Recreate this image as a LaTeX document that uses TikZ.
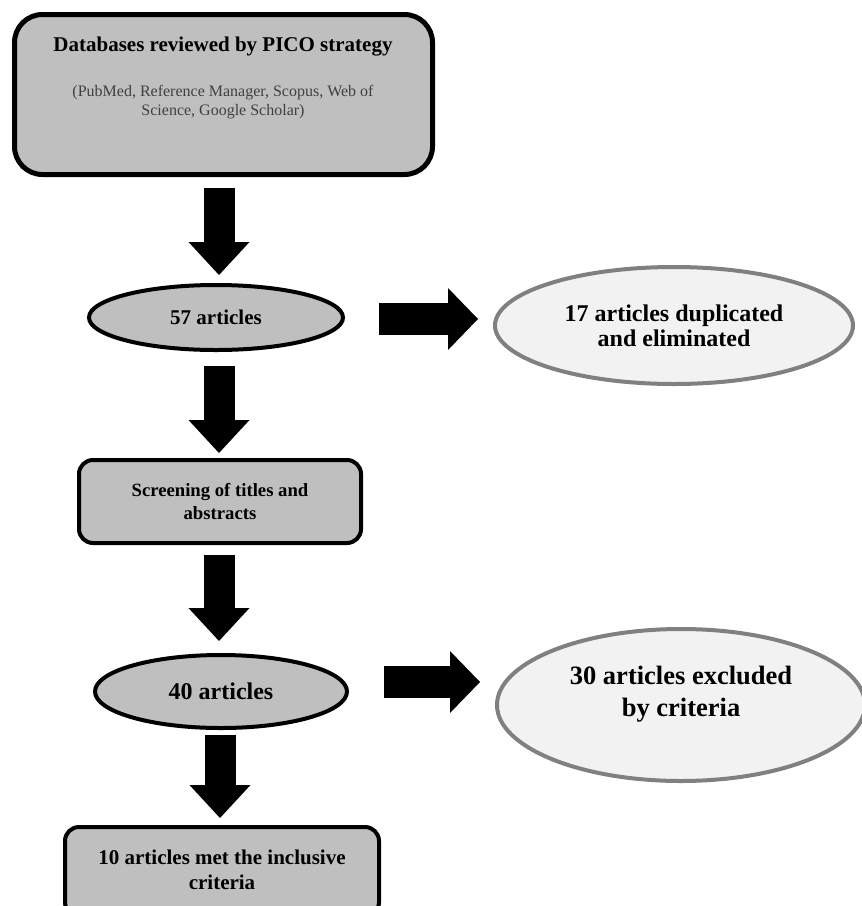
\documentclass[tikz,border=0pt]{standalone}
\usepackage{fontspec}
\setmainfont{Liberation Serif}
\usetikzlibrary{arrows.meta,shapes.geometric,calc}
\definecolor{boxgray}{HTML}{BFBFBF}
\definecolor{lightfill}{HTML}{F2F2F2}
\definecolor{edgegray}{HTML}{808080}
\definecolor{subtext}{HTML}{404040}
\begin{document}
\begin{tikzpicture}[x=1pt,y=-1pt,
  boxg/.style={draw=black, fill=boxgray, rounded corners=#1, line width=4pt, inner sep=0pt, align=center},
  ellg/.style={ellipse, draw=black, fill=boxgray, line width=4pt, inner sep=0pt, align=center},
  elll/.style={ellipse, draw=edgegray, fill=lightfill, line width=4pt, inner sep=0pt, align=center},
  dnarrow/.style={draw=black, line width=31pt, -{Triangle[length=33pt,width=61pt,line width=0pt]}},
  rtarrow/.style={draw=black, line width=32pt, -{Triangle[length=30pt,width=62pt,line width=0pt]}}]
\useasboundingbox (0,0) rectangle (862,906);
\clip (0,0) rectangle (862,906);

% top box
\node[boxg=28pt, line width=5pt, minimum width=418pt, minimum height=160pt] (db) at (223.5,94.5) {};
\node[inner sep=0pt, font=\bfseries\fontsize{21}{25}\selectfont] (dbt) at (223,47) {Databases reviewed by PICO strategy};
\node[inner sep=0pt, font=\fontsize{16}{19}\selectfont, text=subtext, align=center] (dbs) at (223,102.5) {(PubMed, Reference Manager, Scopus, Web of\\Science, Google Scholar)};

% 57 articles
\node[ellg, minimum width=254pt, minimum height=65pt, font=\bfseries\fontsize{21}{25}\selectfont] (a57) at (216,317.5) {57 articles};

% 17 duplicated
\node[elll, minimum width=358pt, minimum height=117pt, font=\bfseries\fontsize{24}{25}\selectfont] (e17) at (674,325.5) {17 articles duplicated\\and eliminated};

% screening
\node[boxg=14pt, minimum width=282pt, minimum height=83pt, font=\bfseries\fontsize{18.7}{23}\selectfont] (scr) at (220,501.5) {Screening of titles and\\abstracts};

% 40 articles
\node[ellg, minimum width=252pt, minimum height=73pt, font=\bfseries\fontsize{24}{28}\selectfont] (e40) at (221,691.5) {40 articles};

% 30 excluded
\node[elll, minimum width=368pt, minimum height=152pt] (e30) at (681,705) {};
\node[inner sep=0pt, align=center, font=\bfseries\fontsize{26.5}{32}\selectfont] (e30t) at (681,694) {30 articles excluded\\by criteria};

% result (runs past the lower edge of the picture)
\node[boxg=14pt, minimum width=314pt, minimum height=89pt] (res) at (222,871.5) {};
\node[inner sep=0pt, align=center, font=\bfseries\fontsize{21}{25}\selectfont] (rest) at (222,869.5) {10 articles met the inclusive\\criteria};

% arrows
\draw[dnarrow] ($(db.south)+(-4.5,10.5)$) -- ($(a57.north)+(3,-8)$);
\draw[dnarrow] ($(a57.south)+(3,14)$) -- ($(scr.north)+(-1,-5)$);
\draw[dnarrow] ($(scr.south)+(-1,10)$) -- ($(e40.north)+(-2,-12)$);
\draw[dnarrow] ($(e40.south)+(-1,5)$) -- ($(res.north)+(-2,-7)$);
\draw[rtarrow] ($(a57.east)+(34,1.5)$) -- ($(a57.east -| e17.west)+(-15,1.5)$);
\draw[rtarrow] ($(e40.east)+(35,-9.5)$) -- ($(e40.east -| e30.west)+(-15,-9.5)$);
\end{tikzpicture}
\end{document}
